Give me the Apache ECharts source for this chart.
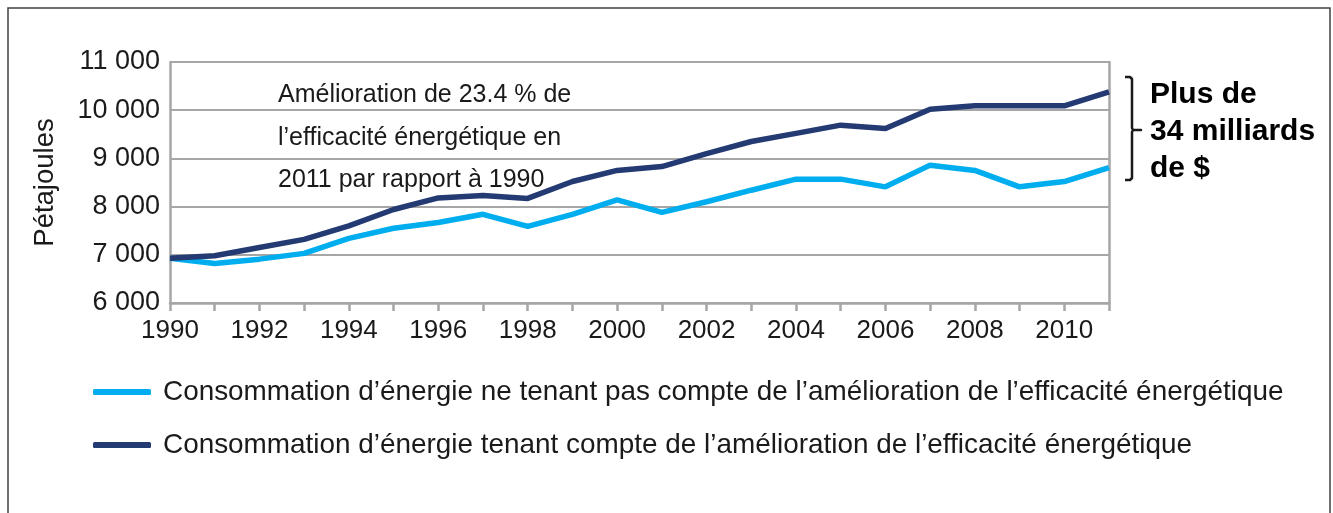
<!DOCTYPE html>
<html>
<head>
<meta charset="utf-8">
<script src="https://cdn.jsdelivr.net/npm/echarts@6/dist/echarts.min.js"></script>
<style>
html,body{margin:0;padding:0;background:#fff;}
#chart{width:1333px;height:513px;}
</style>
</head>
<body>
<div id="chart"></div>
<script>
const years = ['1990','1991','1992','1993','1994','1995','1996','1997','1998','1999','2000','2001','2002','2003','2004','2005','2006','2007','2008','2009','2010','2011'];
const seriesNames = [
  'Consommation d’énergie ne tenant pas compte de l’amélioration de l’efficacité énergétique',
  'Consommation d’énergie tenant compte de l’amélioration de l’efficacité énergétique'
];
const withoutEfficiency = [6930, 6820, 6910, 7030, 7340, 7550, 7670, 7840, 7590, 7840, 8140, 7880, 8100, 8340, 8570, 8570, 8410, 8860, 8750, 8410, 8520, 8810];
const withEfficiency = [6930, 6980, 7150, 7320, 7600, 7940, 8180, 8230, 8170, 8520, 8750, 8830, 9100, 9350, 9520, 9690, 9620, 10020, 10090, 10090, 10090, 10380];
const yTicks = {min: 6000, max: 11000, interval: 1000};
const yAxisName = 'Pétajoules';
const annotationLines = ['Amélioration de 23.4 % de', 'l’efficacité énergétique en', '2011 par rapport à 1990'];
const bracketLines = ['Plus de', '34 milliards', 'de $'];

const FONT = '"Liberation Sans", Arial, Helvetica, sans-serif';
const TXT = '#1a1a1a';
const GRID = '#a6a6a6';
const chart = echarts.init(document.getElementById('chart'));

function fmt(v){ return String(v).replace(/\B(?=(\d{3})+(?!\d))/g, ' '); }

const legendBase = {orient: 'vertical', left: 93, padding: 0, icon: 'roundRect', itemWidth: 58, itemHeight: 6,
  textStyle: {fontFamily: FONT, fontSize: 27.9, color: TXT, lineHeight: 30, padding: [0,0,0,7]}};

chart.setOption({
  animation: false,
  backgroundColor: '#fff',
  grid: {left: 170, right: 224, top: 62, bottom: 210, containLabel: false},
  legend: [
    Object.assign({data: [seriesNames[0]], top: 377}, legendBase),
    Object.assign({data: [seriesNames[1]], top: 430}, legendBase)
  ],
  xAxis: {
    type: 'category', data: years, boundaryGap: false,
    axisLine: {show: true, lineStyle: {color: GRID, width: 2.5}},
    axisTick: {show: true, interval: 0, length: 8, lineStyle: {color: GRID, width: 2.5}},
    axisLabel: {interval: 1, fontFamily: FONT, fontSize: 26, color: TXT, margin: 15},
    splitLine: {show: false}
  },
  yAxis: [{
    type: 'value', min: yTicks.min, max: yTicks.max, interval: yTicks.interval,
    name: yAxisName, nameLocation: 'middle', nameGap: 111, nameRotate: 90,
    nameTextStyle: {fontFamily: FONT, fontSize: 27.5, color: TXT},
    axisLine: {show: true, lineStyle: {color: GRID, width: 2.5}},
    axisTick: {show: false},
    axisLabel: {formatter: fmt, fontFamily: FONT, fontSize: 27, color: TXT, margin: 10},
    splitLine: {show: true, lineStyle: {color: GRID, width: 2}}
  }, {
    type: 'value', min: yTicks.min, max: yTicks.max, interval: yTicks.interval, position: 'right',
    axisLine: {show: true, lineStyle: {color: GRID, width: 2.5}},
    axisTick: {show: false}, axisLabel: {show: false}, splitLine: {show: false}
  }],
  series: [
    {name: seriesNames[0], type: 'line', data: withoutEfficiency, showSymbol: false, symbol: 'none',
     lineStyle: {color: '#00aeef', width: 5.5}, itemStyle: {color: '#00aeef'}, z: 3},
    {name: seriesNames[1], type: 'line', data: withEfficiency, showSymbol: false, symbol: 'none',
     lineStyle: {color: '#243a73', width: 5.5}, itemStyle: {color: '#243a73'}, z: 4}
  ],
  graphic: [
    {type: 'rect', shape: {x: 8, y: 8, width: 1322, height: 540}, style: {fill: 'none', stroke: '#404040', lineWidth: 1.5}, silent: true},
    {type: 'text', left: 278, top: 74, style: {text: annotationLines.join('\n'), fontFamily: FONT, fontSize: 25, lineHeight: 42.5, fill: TXT}},
    {type: 'polyline', shape: {points: [[1125,77],[1130,77],[1132,79],[1132,128],[1133,130],[1141,130],[1133,130],[1132,132],[1132,178],[1130,180],[1125,180]]}, style: {fill: 'none', stroke: '#1a1a1a', lineWidth: 2.5, lineJoin: 'round'}},
    {type: 'text', left: 1150, top: 76, style: {text: bracketLines.join('\n'), fontFamily: FONT, fontSize: 30, fontWeight: 'bold', lineHeight: 37, fill: '#000'}}
  ]
});
</script>
</body>
</html>
